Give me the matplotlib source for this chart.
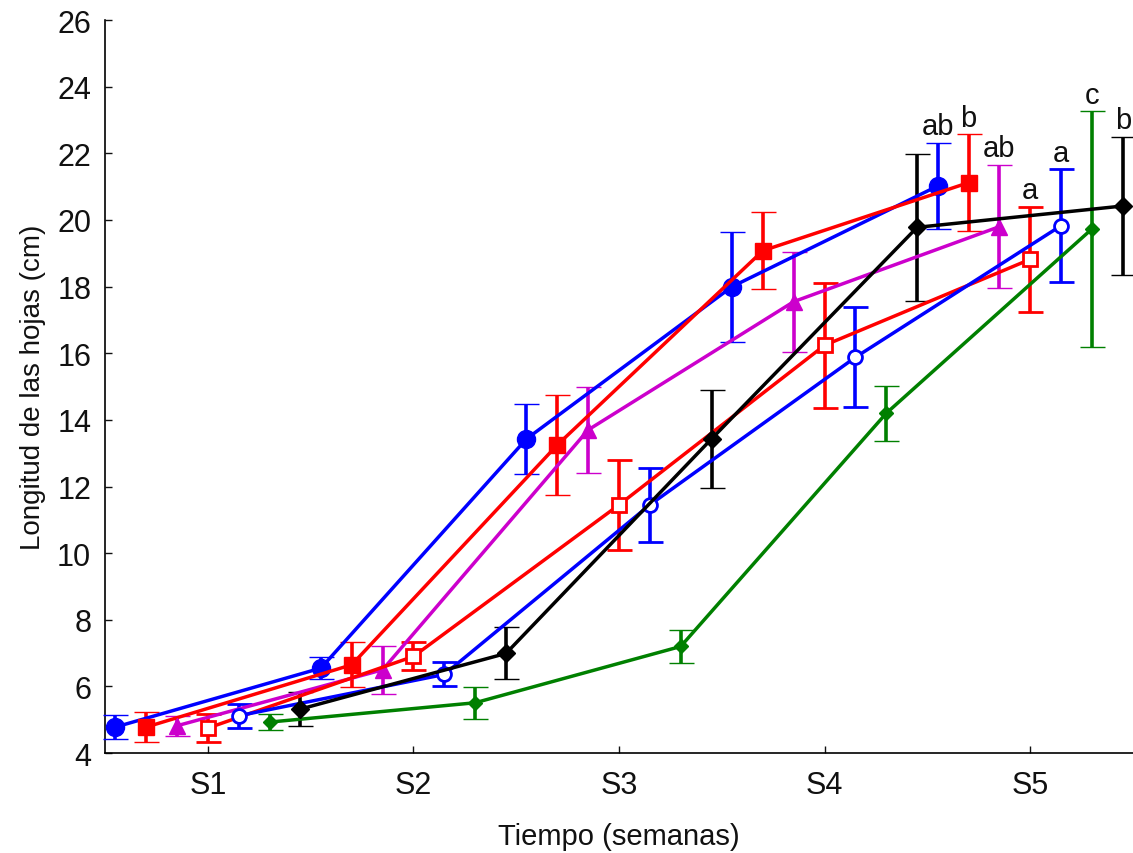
import matplotlib
matplotlib.use("Agg")
import matplotlib.pyplot as plt
import numpy as np

plt.rcParams['font.family'] = ['Liberation Sans', 'DejaVu Sans']

weeks = ["S1", "S2", "S3", "S4", "S5"]

blue_f_mean = [4.78, 6.55, 13.43, 18.0, 21.02]
blue_f_err = [0.35, 0.33, 1.05, 1.65, 1.3]
red_f_mean = [4.78, 6.65, 13.25, 19.08, 21.12]
red_f_err = [0.46, 0.68, 1.5, 1.15, 1.45]
mag_mean = [4.82, 6.5, 13.7, 17.55, 19.8]
mag_err = [0.3, 0.72, 1.3, 1.5, 1.85]
red_o_mean = [4.75, 6.9, 11.45, 16.24, 18.82]
red_o_err = [0.42, 0.42, 1.35, 1.87, 1.58]
blue_o_mean = [5.12, 6.36, 11.45, 15.88, 19.83]
blue_o_err = [0.36, 0.36, 1.1, 1.5, 1.69]
green_mean = [4.93, 5.51, 7.2, 14.2, 19.73]
green_err = [0.23, 0.48, 0.5, 0.83, 3.53]
black_mean = [5.32, 6.99, 13.43, 19.78, 20.42]
black_err = [0.52, 0.78, 1.48, 2.2, 2.07]

letters_s5 = ["ab", "b", "ab", "a", "a", "c", "b"]

series = [
    (blue_f_mean, blue_f_err, -0.45, dict(color='#0000FF', marker='o', ms=13, mfc='#0000FF')),
    (red_f_mean, red_f_err, -0.30, dict(color='#FF0000', marker='s', ms=11.5, mfc='#FF0000')),
    (mag_mean, mag_err, -0.15, dict(color='#CC00CC', marker='^', ms=12, mfc='#CC00CC')),
    (red_o_mean, red_o_err, 0.0, dict(color='#FF0000', marker='s', ms=10.5, mfc='white', mew=2)),
    (blue_o_mean, blue_o_err, 0.15, dict(color='#0000FF', marker='o', ms=10, mfc='white', mew=2)),
    (green_mean, green_err, 0.30, dict(color='#008000', marker='D', ms=7, mfc='#008000')),
    (black_mean, black_err, 0.45, dict(color='#000000', marker='D', ms=9, mfc='#000000')),
]

fig = plt.figure(figsize=(11.33, 8.54), dpi=100)
ax = fig.add_axes([0.0927, 0.117, 0.9073, 0.8583])

base = np.arange(1, len(weeks) + 1)
for (m, e, off, st), lab in zip(series, letters_s5):
    x = base + off
    ax.errorbar(x, m, yerr=e, color=st['color'], marker=st['marker'], ms=st['ms'],
                mfc=st['mfc'], mec=st['color'], mew=st.get('mew', 1.0),
                lw=2.5, elinewidth=2.6, capsize=9, capthick=2.6, clip_on=False, zorder=3)
    ax.annotate(lab, xy=(x[-1], m[-1] + e[-1]), xytext=(0, 2), textcoords='offset points',
                ha='center', va='bottom', fontsize=21, color='#111111')

ax.set_xlim(0.5, 5.5)
ax.set_ylim(4, 26)
ax.set_xticks(base)
ax.set_xticklabels(weeks)
ax.set_yticks(np.arange(4, 27, 2))
ax.tick_params(direction='in', length=5, width=1, labelsize=22, colors='#111111')
ax.tick_params(axis='y', pad=10)
ax.tick_params(axis='x', pad=12)
for s in ['top', 'right']:
    ax.spines[s].set_visible(False)
for s in ['left', 'bottom']:
    ax.spines[s].set_linewidth(1.2)
ax.set_xlabel("Tiempo (semanas)", fontsize=21, labelpad=16, color='#111111')
ax.set_ylabel("Longitud de las hojas (cm)", fontsize=20, labelpad=8, color='#111111')

fig.savefig("out.png", dpi=100)
